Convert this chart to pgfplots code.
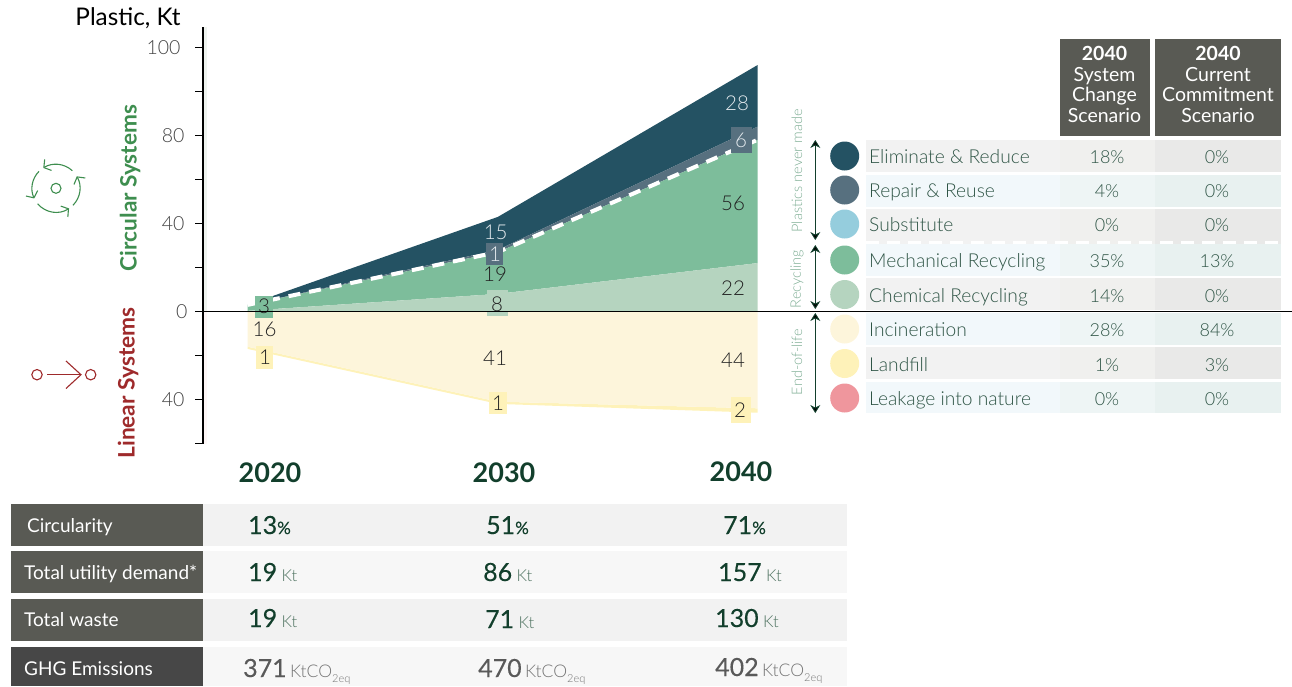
\documentclass[border=0pt]{standalone}
\usepackage{fontspec}
\setmainfont{Lato}
\newfontfamily\lt{Lato}[UprightFont=* Light]
\newfontfamily\md{Lato}[FakeBold=0.25]
\usepackage{pgfplots}
\pgfplotsset{compat=1.18}
\usetikzlibrary{arrows.meta}
\definecolor{elim}{HTML}{245263}
\definecolor{repair}{HTML}{57707F}
\definecolor{subst}{HTML}{95CDDD}
\definecolor{mech}{HTML}{7DBD9B}
\definecolor{chem}{HTML}{B5D4BF}
\definecolor{incin}{HTML}{FDF5DB}
\definecolor{land}{HTML}{FEF2B9}
\definecolor{leak}{HTML}{EF969D}
\definecolor{hdr}{HTML}{595A54}
\definecolor{rowtxt}{HTML}{2F5546}
\definecolor{dk}{HTML}{123F2C}
\definecolor{unit}{HTML}{4F7361}
\definecolor{side}{HTML}{7FAE95}
\definecolor{ticktxt}{HTML}{444444}
\definecolor{circg}{HTML}{3E8E4F}
\definecolor{linr}{HTML}{9E2A2B}
\definecolor{rA}{HTML}{F2F2F2}\definecolor{rB}{HTML}{F0F0EE}\definecolor{rC}{HTML}{E9E9E8}
\definecolor{sA}{HTML}{F2F8FB}\definecolor{sB}{HTML}{EEF5F5}\definecolor{sC}{HTML}{E8F1F0}
\definecolor{lab}{HTML}{222222}
\definecolor{lablt}{HTML}{E4EAEE}
\definecolor{bandg}{HTML}{EFF3EF}
\definecolor{bandr}{HTML}{FDF6F6}
\newcommand{\fs}[1]{\fontsize{#1}{#1}\selectfont}
\newcommand{\Bx}[5]{\fill[#5] (#1,#3) rectangle (#2,#4);}
\newcommand{\T}[4]{\node[inner sep=0pt,#3] at (#1,#2) {#4};}
\newcommand{\Lab}[4]{\node[inner sep=0pt,text=#3] at (#1,#2) {\lt\fs{20.5}#4};}
\newcommand{\Row}[8]{%
  \Bx{866}{1060}{#1}{#2}{#7A}\Bx{1060}{1155}{#1}{#2}{#7B}\Bx{1155}{1281}{#1}{#2}{#7C}
  \fill[#4] (844.7,#3) circle[radius=14.5pt];
  \T{869}{#3+7.7}{anchor=base west,text=rowtxt}{\lt\fs{19.2}#5}
  \T{1107}{#3+7.6}{anchor=base,text=rowtxt}{\lt\fs{18}#6}
  \T{1217}{#3+7.6}{anchor=base,text=rowtxt}{\lt\fs{18}#8}}
\newcommand{\Hd}[3]{\T{#1}{#2}{anchor=base,text=white}{\fs{19.5}#3}}
\newcommand{\Val}[4]{\node[inner sep=0pt,anchor=base west] at (#1,#2) {\textcolor{#4}{\md\fs{25}#3}};}
\newcommand{\Kt}{\kern-2pt\textcolor{unit}{\lt\fs{16.5}Kt}}
\newcommand{\Co}{\kern-3pt\textcolor{black!55}{\lt\fs{17.5}KtCO\raisebox{-5pt}{\fs{11}2eq}}}
\pgfplotsset{base/.style={at={(203pt,-443.5pt)},anchor=south west,scale only axis,width=1089pt,height=416.5pt,
  xmin=2018.255,xmax=2060.96,ymin=-60,ymax=129.3}}
\tikzset{dbl/.style={{Stealth[length=8pt,width=10pt,fill=black]}-{Stealth[length=8pt,width=10pt,fill=black]},draw=dk,line width=0.9pt},
 barb/.style={circg,line width=1.1pt,-{Straight Barb[length=5pt,width=13pt]}}}
\begin{document}
\begin{tikzpicture}[x=1pt,y=-1pt]
\path[use as bounding box] (0,0) rectangle (1292,686);
% faint band beside the axis
\fill[bandg] (203,27) rectangle (207,311);
\fill[bandr] (203,311) rectangle (207,444);
% right-hand table
\Bx{1060}{1150}{39}{136}{hdr}
\Bx{1155}{1281}{39}{136}{hdr}
\Row{140}{172}{156}{elim}{Eliminate \& Reduce}{18\%}{r}{0\%}
\Row{175}{207}{190}{repair}{Repair \& Reuse}{4\%}{s}{0\%}
\Row{209}{244}{224}{subst}{Substitute}{0\%}{r}{0\%}
\Row{244}{276}{260}{mech}{Mechanical Recycling}{35\%}{s}{13\%}
\Row{278}{310}{294.5}{chem}{Chemical Recycling}{14\%}{r}{0\%}
\Row{313}{345}{329}{incin}{Incineration}{28\%}{s}{84\%}
\Row{347}{379}{363.5}{land}{Landfill}{1\%}{r}{3\%}
\Row{382}{413}{398}{leak}{Leakage into nature}{0\%}{s}{0\%}
\draw[white,line width=3.5pt,dash pattern=on 13pt off 8pt] (866,242.3) -- (1281,242.3);
\Hd{1104.5}{60.5}{\bfseries 2040}\Hd{1218}{60.5}{\bfseries 2040}
\Hd{1104.5}{81}{System}\Hd{1104.5}{101}{Change}\Hd{1104.5}{122}{Scenario}
\Hd{1218}{81}{Current}\Hd{1218}{101}{Commitment}\Hd{1218}{122}{Scenario}
% side arrows
\draw[dbl] (815.3,140) -- (815.3,240);
\draw[dbl] (815.3,245) -- (815.3,309);
\draw[dbl] (815.3,313) -- (815.3,413);
\T{797}{170.7}{rotate=90,text=side}{\lt\fs{14.5}Plastics never made}
\T{797}{279}{rotate=90,text=side}{\lt\fs{14.5}Recycling}
\T{797}{362}{rotate=90,text=side}{\lt\fs{14.5}End-of-life}
% end-of-life layers
\begin{axis}[base,hide axis,stack plots=y]
\addplot[fill=incin,draw=none] coordinates {(2020,-16) (2029.82,-41) (2040,-44)} \closedcycle;
\addplot[fill=land,draw=none] coordinates {(2020,-1) (2029.82,-1) (2040,-2)} \closedcycle;
\end{axis}
% circular layers
\begin{axis}[base,hide axis,stack plots=y]
\addplot[fill=chem,draw=none] coordinates {(2020,0.3) (2029.82,8) (2040,22)} \closedcycle;
\addplot[fill=mech,draw=none] coordinates {(2020,2.7) (2029.82,19) (2040,56)} \closedcycle;
\addplot[fill=repair,draw=none] coordinates {(2020,0) (2029.82,1) (2040,6)} \closedcycle;
\addplot[fill=elim,draw=none] coordinates {(2020,0) (2029.82,15) (2040,28)} \closedcycle;
\end{axis}
% dashed boundary between reduction and recycling
\begin{axis}[base,hide axis]
\addplot[white,line width=4pt,dash pattern=on 12pt off 9pt] coordinates {(2020,3) (2029.82,27) (2040,78)};
\end{axis}
% value labels
\Bx{255}{273}{296}{318}{mech}\Lab{264}{306}{lab}{3}
\Lab{264.5}{329}{lab}{16}
\Bx{256}{273}{346}{369}{land}\Lab{265}{357}{lab}{1}
\Lab{495.7}{232}{lablt}{15}
\Bx{486}{503}{243}{265}{repair}\Lab{495}{254}{lablt}{1}
\Lab{495}{274}{lab}{19}
\Bx{487}{508}{290}{316}{chem}\Lab{497}{304}{lab}{8}
\Lab{495}{358}{lab}{41}
\Bx{489}{507}{392}{414}{land}\Lab{498}{403.5}{lab}{1}
\Lab{737}{103.7}{lablt}{28}
\Bx{731}{752}{127}{153}{repair}\Lab{741}{140.5}{lablt}{6}
\Lab{733}{203}{lab}{56}
\Lab{733}{288}{lab}{22}
\Lab{733}{360}{lab}{44}
\Bx{731}{751}{397}{423}{land}\Lab{740}{410}{lab}{2}
% axis lines and ticks
\begin{axis}[base,axis x line=middle,axis y line=left,
  x axis line style={-,line width=1.3pt},y axis line style={-,line width=1.3pt},
  xtick=\empty,tick align=outside,ytick pos=left,
  major tick length=8pt,tick style={black,line width=1.1pt},
  ytick={-60,-40,-20,0,20,40,60,80,100,120},
  yticklabels={,40,,0\kern-3pt,,40,,80,,100\kern4pt},
  /pgf/number format/assume math mode=true,
  yticklabel style={text=ticktxt,font=\lt\fs{19.5},xshift=-7pt}]
\end{axis}
\T{128}{18}{text=black}{\fs{24.3}Plastic, Kt}
\T{130}{188}{rotate=90,text=circg}{\fs{22.6}\bfseries Circular Systems}
\T{128}{383}{rotate=90,text=linr}{\fs{22.7}\bfseries Linear Systems}
% circular icon
\draw[circg,line width=1.1pt] (56,188.3) circle[radius=5pt];
\begin{scope}[shift={(56,188.3)}]
\draw[barb] (47:24pt) arc[start angle=47,end angle=122,radius=24pt];
\draw[barb] (135:24pt) arc[start angle=135,end angle=205,radius=24pt];
\draw[barb] (220:24pt) arc[start angle=220,end angle=303,radius=24pt];
\draw[barb] (-45:24pt) arc[start angle=-45,end angle=30,radius=24pt];
\end{scope}
% linear icon
\draw[linr,line width=1.1pt] (37,374.7) circle[radius=5.2pt];
\draw[linr,line width=1.1pt] (90.7,374.7) circle[radius=5.2pt];
\draw[linr,line width=1.1pt] (47,374.7) -- (81,374.7);
\draw[linr,line width=1.1pt] (66,361) -- (81,374.7) -- (66,388.5);
% years
\T{270}{473}{text=dk}{\fs{27}\bfseries 2020}
\T{504}{473}{text=dk}{\fs{27}\bfseries 2030}
\T{741}{472}{text=dk}{\fs{27}\bfseries 2040}
% lower table
\Bx{11}{203}{504}{546}{hdr}\Bx{203}{847}{504}{546}{rA}
\Bx{11}{203}{551}{593}{hdr}\Bx{203}{847}{551}{593}{black!3}
\Bx{11}{203}{599}{641}{hdr}\Bx{203}{847}{599}{641}{rA}
\Bx{11}{203}{647}{686}{black!72}\Bx{203}{847}{647}{686}{black!3}
\T{27}{532}{anchor=base west,text=white}{\fs{19}Circularity}
\T{24}{579}{anchor=base west,text=white}{\fs{19}Total utility demand*}
\T{24}{626}{anchor=base west,text=white}{\fs{19}Total waste}
\T{24}{675}{anchor=base west,text=white}{\fs{19}GHG Emissions}
\Val{248}{534}{13\fs{17}\%}{dk}
\Val{486}{534}{51\fs{17}\%}{dk}
\Val{723}{534}{71\fs{17}\%}{dk}
\Val{248}{581}{19 \Kt}{dk}
\Val{483}{581}{86 \Kt}{dk}
\Val{718}{581}{157 \Kt}{dk}
\Val{248}{627}{19 \Kt}{dk}
\Val{485}{628}{71 \Kt}{dk}
\Val{715}{627}{130 \Kt}{dk}
\Val{243}{677}{371 \Co}{black!65}
\Val{478}{677}{470 \Co}{black!65}
\Val{715}{676}{402 \Co}{black!65}
\end{tikzpicture}
\end{document}
